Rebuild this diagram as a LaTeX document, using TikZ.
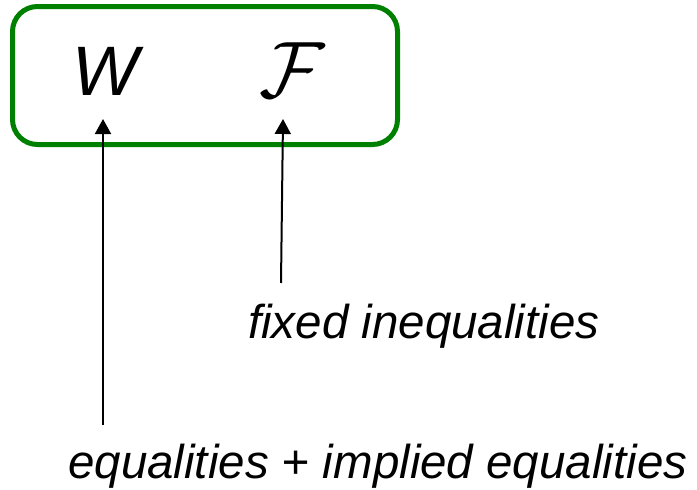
\documentclass[tikz,border=0pt]{standalone}
\usepackage{fontspec}
\setmainfont{Liberation Sans}
\usepackage{tikz}
\usetikzlibrary{arrows.meta, positioning}
\definecolor{boxgreen}{RGB}{0,128,0}
\tikzset{
    setbox/.style={draw=boxgreen, line width=5pt, rounded corners=25pt},
    symbol/.style={inner sep=0pt, anchor=base west, font=\fontsize{70}{70}\selectfont\itshape},
    calsymbol/.style={inner sep=0pt, anchor=base west, scale=8},
    caption/.style={inner sep=0pt, anchor=base west, font=\fontsize{47.5}{50}\selectfont\itshape},
    pointer/.style={-{Triangle[width=16pt, length=15pt]}, line width=2pt, draw=black}
}
\begin{document}
\begin{tikzpicture}[x=1pt, y=-1pt]
        \useasboundingbox (0,0) rectangle (697,490);

        % -----------------------------------------------------------------
        % INSIEME DEI VINCOLI
        % -----------------------------------------------------------------
        \draw[setbox] (12.5,6.5) rectangle (397.5,144.5);
        \node[symbol] (wset) at (72,95) {W};
        \node[calsymbol] (fset) at (258,97) {$\mathcal{F}$};

        % -----------------------------------------------------------------
        % ETICHETTE
        % -----------------------------------------------------------------
        \node[caption] (fixedlabel) at (248,338) {fixed inequalities};
        \node[caption] (eqlabel) at (68,478) {equalities + implied equalities};

        % -----------------------------------------------------------------
        % FRECCE
        % -----------------------------------------------------------------
        \coordinate (wtail) at (103,425);
        \coordinate (wtip) at (103,119);
        \coordinate (ftail) at (281,283);
        \coordinate (ftip) at (283,119);
        \draw[pointer] (wtail) -- (wtip);
        \draw[pointer] (ftail) -- (ftip);

    \end{tikzpicture}
\end{document}
